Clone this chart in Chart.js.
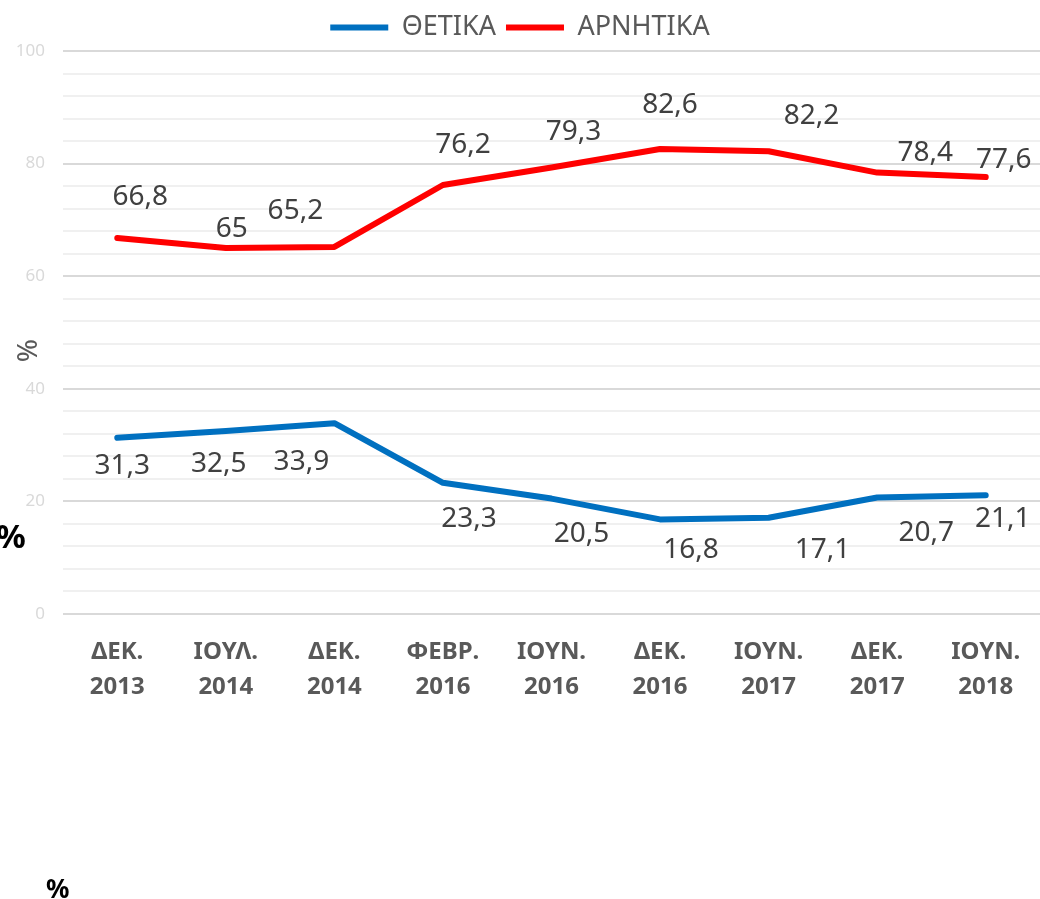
<!DOCTYPE html>
<html><head><meta charset="utf-8">
<script src="https://cdn.jsdelivr.net/npm/chart.js@4"></script>
<style>html,body{margin:0;padding:0;background:#fff}#wrap{position:relative;width:1040px;height:899px}</style>
</head><body><div id="wrap"><canvas id="c" width="1040" height="899"></canvas></div>
<script>
// ---- data ----
const categories = [['ΔΕΚ.','2013'],['ΙΟΥΛ.','2014'],['ΔΕΚ.','2014'],['ΦΕΒΡ.','2016'],['ΙΟΥΝ.','2016'],['ΔΕΚ.','2016'],['ΙΟΥΝ.','2017'],['ΔΕΚ.','2017'],['ΙΟΥΝ.','2018']];
const positive = [31.3, 32.5, 33.9, 23.3, 20.5, 16.8, 17.1, 20.7, 21.1];
const negative = [66.8, 65, 65.2, 76.2, 79.3, 82.6, 82.2, 78.4, 77.6];
const seriesNames = ['ΘΕΤΙΚΑ', 'ΑΡΝΗΤΙΚΑ'];
const yMajorTicks = [0, 20, 40, 60, 80, 100];
const yAxisTitle = '%';

// ---- label placement (pixels, relative to each point) ----
const posLabelDx = [5, -7, -33, 26, 30, 31, 54, 49, 17];
const posLabelDy = [26, 31, 37, 34, 33, 29, 30, 34, 22];
const negLabelDx = [23, 6, -39, 20, 22, 10, 43, 48, 18];
const negLabelDy = [-43, -21, -38, -42, -38, -46, -37, -22, -19];

Chart.defaults.font.family = "'Noto Sans', sans-serif";

const labelPlugin = {
  id: 'vlabels',
  afterDatasetsDraw(chart) {
    const ctx = chart.ctx;
    ctx.save();
    ctx.font = "28px 'Noto Sans'";
    ctx.fillStyle = '#404040';
    ctx.textAlign = 'center';
    ctx.textBaseline = 'alphabetic';
    const offs = [[posLabelDx, posLabelDy], [negLabelDx, negLabelDy]];
    chart.data.datasets.forEach((ds, di) => {
      const meta = chart.getDatasetMeta(di);
      meta.data.forEach((pt, i) => {
        const txt = String(ds.data[i]).replace('.', ',');
        ctx.fillText(txt, pt.x + offs[di][0][i], pt.y + offs[di][1][i] + 10);
      });
    });
    ctx.restore();
  },
  afterDraw(chart) {
    const ctx = chart.ctx;
    ctx.save();
    ctx.fillStyle = '#000';
    ctx.textAlign = 'left';
    ctx.textBaseline = 'alphabetic';
    ctx.font = "bold 33px 'Noto Sans'";
    ctx.fillText('%', -4, 548);
    ctx.font = "bold 26px 'Noto Sans'";
    ctx.fillText('%', 46, 898);
    ctx.restore();
  }
};

new Chart(document.getElementById('c'), {
  type: 'line',
  data: {
    labels: categories,
    datasets: [
      { label: seriesNames[0], data: positive, borderColor: '#0070C0', backgroundColor: '#0070C0',
        borderWidth: 6, pointRadius: 0, tension: 0, borderCapStyle: 'round', borderJoinStyle: 'round' },
      { label: seriesNames[1], data: negative, borderColor: '#FF0000', backgroundColor: '#FF0000',
        borderWidth: 6, pointRadius: 0, tension: 0, borderCapStyle: 'round', borderJoinStyle: 'round' }
    ]
  },
  options: {
    responsive: false,
    animation: false,
    devicePixelRatio: 1,
    layout: { padding: { top: 4, right: 0, left: 0, bottom: 0 } },
    plugins: {
      legend: {
        position: 'top',
        labels: { usePointStyle: true, pointStyle: 'line', pointStyleWidth: 58, padding: 10,
          color: '#595959', font: { size: 27 } }
      },
      tooltip: { enabled: false }
    },
    scales: {
      x: {
        offset: true,
        grid: { display: false, offset: true },
        border: { display: false },
        ticks: { color: '#595959', font: { size: 24, weight: 'bold', lineHeight: 1.45 }, padding: 13,
          maxRotation: 0, autoSkip: false },
        afterFit(s) { s.height = 285; }
      },
      y: {
        min: 0, max: 100,
        border: { display: false },
        grid: {
          drawTicks: false,
          color: c => yMajorTicks.includes(c.tick.value) ? '#d9d9d9' : '#f0f0f0',
          lineWidth: 2
        },
        ticks: { stepSize: 4, autoSkip: false, color: '#d9d9d9', font: { size: 17 }, padding: 18,
          callback: v => yMajorTicks.includes(v) ? String(v) : '' },
        title: { display: true, text: yAxisTitle + '\u00a0'.repeat(5), color: '#595959',
          font: { size: 28, family: "'Noto Sans', sans-serif" }, padding: { top: 12, bottom: 0 } },
        afterFit(s) { s.width = 63; }
      }
    }
  },
  plugins: [labelPlugin]
});
</script>
</body></html>
